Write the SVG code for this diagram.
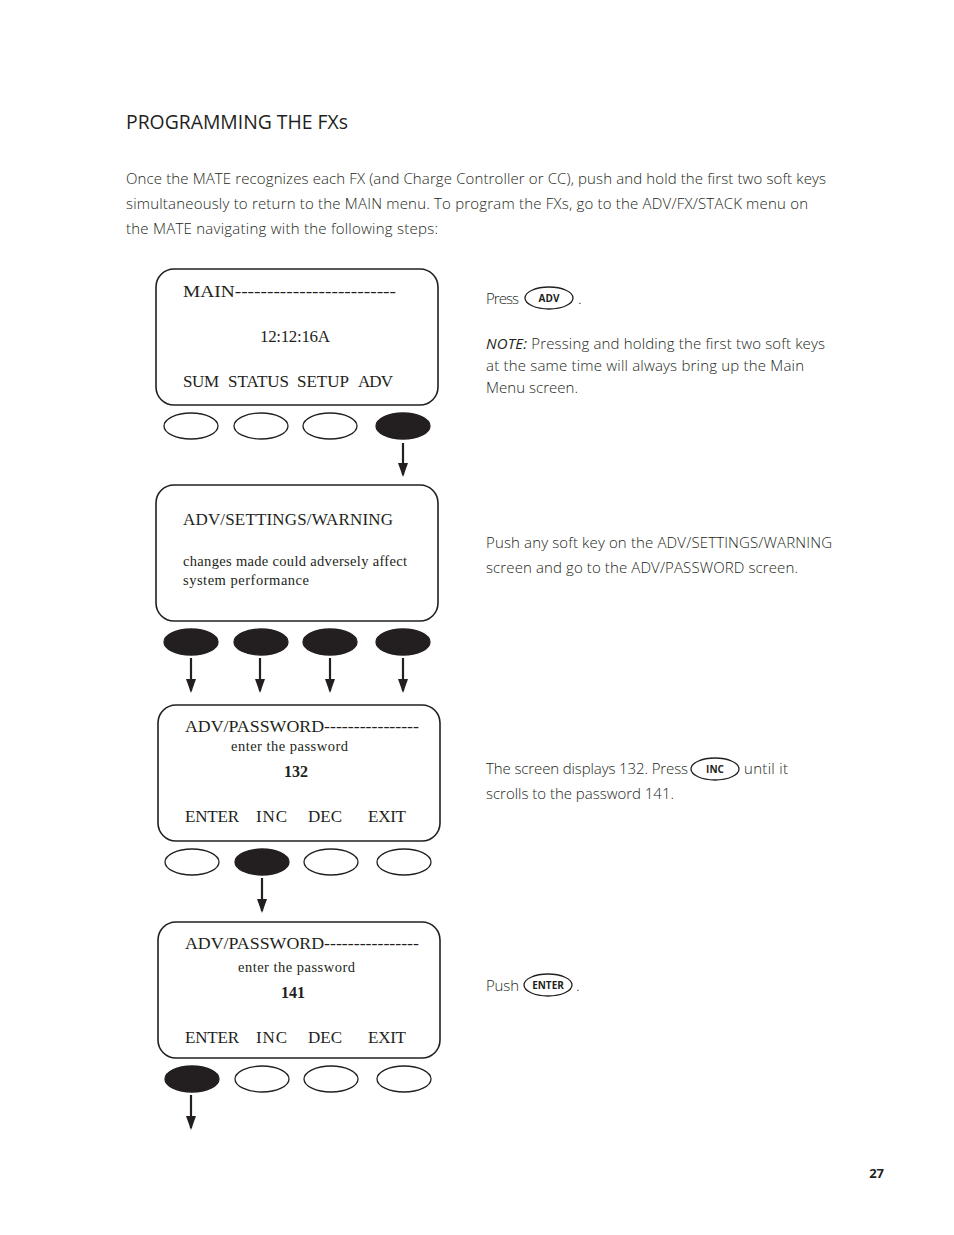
<svg xmlns="http://www.w3.org/2000/svg" width="954" height="1235" viewBox="0 0 954 1235">
<style>
.scr{fill:#fff;stroke:#231f20;stroke-width:1.6}
.k{fill:#fff;stroke:#231f20;stroke-width:1.3}
.kf{fill:#231f20;stroke:#231f20;stroke-width:1.3}
.ser{font-family:"Liberation Serif",serif;fill:#231f20}
.t{font-family:"Open Sans","Noto Sans",sans-serif;font-weight:300;font-size:15px;fill:#231f20}
.conn line{stroke:#231f20;stroke-width:2.2}
.btn{fill:#fff;stroke:#231f20;stroke-width:1.3}
.bt{font-family:"Open Sans","Noto Sans",sans-serif;font-weight:700;font-size:10px;fill:#231f20;text-anchor:middle}
</style>
<defs>
<marker id="ah" markerWidth="14" markerHeight="10" refX="12" refY="5" orient="auto" markerUnits="userSpaceOnUse" viewBox="0 0 14 10">
<path d="M0,0 L14,5 L0,10 Z" fill="#231f20"/>
</marker>
</defs>
<rect width="954" height="1235" fill="#fff"/>
<text x="126" y="129" font-family="'Open Sans','Noto Sans',sans-serif" font-size="19.5" fill="#231f20" textLength="222" lengthAdjust="spacingAndGlyphs">PROGRAMMING THE FXs</text>
<text class="t" x="126" y="184" textLength="700">Once the MATE recognizes each FX (and Charge Controller or CC), push and hold the first two soft keys</text>
<text class="t" x="126" y="209" textLength="682">simultaneously to return to the MAIN menu.  To program the FXs, go to the ADV/FX/STACK menu on</text>
<text class="t" x="126" y="234" textLength="312">the MATE navigating with the following steps:</text>

<g id="screen1">
<rect class="scr" x="156" y="269" width="282" height="136" rx="18"/>
<text class="ser" x="183" y="297" font-size="17" textLength="213" lengthAdjust="spacingAndGlyphs">MAIN-------------------------</text>
<text class="ser" x="260" y="342" font-size="17" textLength="70">12:12:16A</text>
<text class="ser" x="183" y="387" font-size="17" textLength="36">SUM</text>
<text class="ser" x="228" y="387" font-size="17" textLength="61">STATUS</text>
<text class="ser" x="297" y="387" font-size="17" textLength="52">SETUP</text>
<text class="ser" x="358" y="387" font-size="17" textLength="35">ADV</text>
<ellipse class="k" cx="191" cy="426" rx="27" ry="13"/>
<ellipse class="k" cx="261" cy="426" rx="27" ry="13"/>
<ellipse class="k" cx="330" cy="426" rx="27" ry="13"/>
<ellipse class="kf" cx="403" cy="426" rx="27" ry="13"/>
</g>

<g id="screen2">
<rect class="scr" x="156" y="485" width="282" height="136" rx="18"/>
<text class="ser" x="183" y="525" font-size="17" textLength="210">ADV/SETTINGS/WARNING</text>
<text class="ser" x="183" y="566" font-size="14.5" textLength="224">changes made could adversely affect</text>
<text class="ser" x="183" y="585" font-size="14.5" textLength="126">system performance</text>
<ellipse class="kf" cx="191" cy="642" rx="27" ry="13"/>
<ellipse class="kf" cx="261" cy="642" rx="27" ry="13"/>
<ellipse class="kf" cx="330" cy="642" rx="27" ry="13"/>
<ellipse class="kf" cx="403" cy="642" rx="27" ry="13"/>
</g>

<g id="screen3">
<rect class="scr" x="158" y="705" width="282" height="136" rx="18"/>
<text class="ser" x="185" y="732" font-size="17" textLength="234" lengthAdjust="spacingAndGlyphs">ADV/PASSWORD----------------</text>
<text class="ser" x="231" y="751" font-size="14.5" textLength="117">enter the password</text>
<text class="ser" x="296" y="777" font-size="16" font-weight="bold" text-anchor="middle">132</text>
<text class="ser" x="185" y="822" font-size="17" textLength="54">ENTER</text>
<text class="ser" x="256" y="822" font-size="17" textLength="31">INC</text>
<text class="ser" x="308" y="822" font-size="17" textLength="34">DEC</text>
<text class="ser" x="368" y="822" font-size="17" textLength="38">EXIT</text>
<ellipse class="k" cx="192" cy="862" rx="27" ry="13"/>
<ellipse class="kf" cx="262" cy="862" rx="27" ry="13"/>
<ellipse class="k" cx="331" cy="862" rx="27" ry="13"/>
<ellipse class="k" cx="404" cy="862" rx="27" ry="13"/>
</g>

<g id="screen4">
<rect class="scr" x="158" y="922" width="282" height="136" rx="18"/>
<text class="ser" x="185" y="949" font-size="17" textLength="234" lengthAdjust="spacingAndGlyphs">ADV/PASSWORD----------------</text>
<text class="ser" x="238" y="972" font-size="14.5" textLength="117">enter the password</text>
<text class="ser" x="293" y="998" font-size="16" font-weight="bold" text-anchor="middle">141</text>
<text class="ser" x="185" y="1043" font-size="17" textLength="54">ENTER</text>
<text class="ser" x="256" y="1043" font-size="17" textLength="31">INC</text>
<text class="ser" x="308" y="1043" font-size="17" textLength="34">DEC</text>
<text class="ser" x="368" y="1043" font-size="17" textLength="38">EXIT</text>
<ellipse class="kf" cx="192" cy="1079" rx="27" ry="13"/>
<ellipse class="k" cx="262" cy="1079" rx="27" ry="13"/>
<ellipse class="k" cx="331" cy="1079" rx="27" ry="13"/>
<ellipse class="k" cx="404" cy="1079" rx="27" ry="13"/>
</g>

<g id="connectors" class="conn">
<line x1="403" y1="443" x2="403" y2="475" marker-end="url(#ah)"/>
<line x1="191" y1="658" x2="191" y2="691" marker-end="url(#ah)"/>
<line x1="260" y1="658" x2="260" y2="691" marker-end="url(#ah)"/>
<line x1="330" y1="658" x2="330" y2="691" marker-end="url(#ah)"/>
<line x1="403" y1="658" x2="403" y2="691" marker-end="url(#ah)"/>
<line x1="262" y1="878" x2="262" y2="911" marker-end="url(#ah)"/>
<line x1="191" y1="1095" x2="191" y2="1128" marker-end="url(#ah)"/>
</g>

<g id="note1">
<text class="t" x="486" y="304" textLength="33">Press</text>
<ellipse class="btn" cx="549" cy="298" rx="24" ry="11"/>
<text class="bt" x="549" y="302">ADV</text>
<text class="t" x="578" y="304">.</text>
<text class="t" x="486" y="349" textLength="339"><tspan font-style="italic" font-weight="400">NOTE:</tspan> Pressing and holding the first two soft keys</text>
<text class="t" x="486" y="371" textLength="318">at the same time will always bring up the Main</text>
<text class="t" x="486" y="393" textLength="92">Menu screen.</text>
</g>

<g id="note2">
<text class="t" x="486" y="548" textLength="346">Push any soft key on the ADV/SETTINGS/WARNING</text>
<text class="t" x="486" y="573" textLength="312">screen and go to the ADV/PASSWORD screen.</text>
</g>

<g id="note3">
<text class="t" x="486" y="774" textLength="202">The screen displays 132. Press</text>
<ellipse class="btn" cx="715" cy="769" rx="24" ry="11"/>
<text class="bt" x="715" y="773">INC</text>
<text class="t" x="744" y="774" textLength="44">until it</text>
<text class="t" x="486" y="799" textLength="188">scrolls to the password 141.</text>
</g>

<g id="note4">
<text class="t" x="486" y="991" textLength="33">Push</text>
<ellipse class="btn" cx="548" cy="985" rx="24" ry="11"/>
<text class="bt" x="548" y="989" font-size="9">ENTER</text>
<text class="t" x="576" y="991">.</text>
</g>

<text x="884" y="1178" font-family="'Open Sans','Noto Sans',sans-serif" font-weight="700" font-size="13" fill="#231f20" text-anchor="end">27</text>
</svg>
